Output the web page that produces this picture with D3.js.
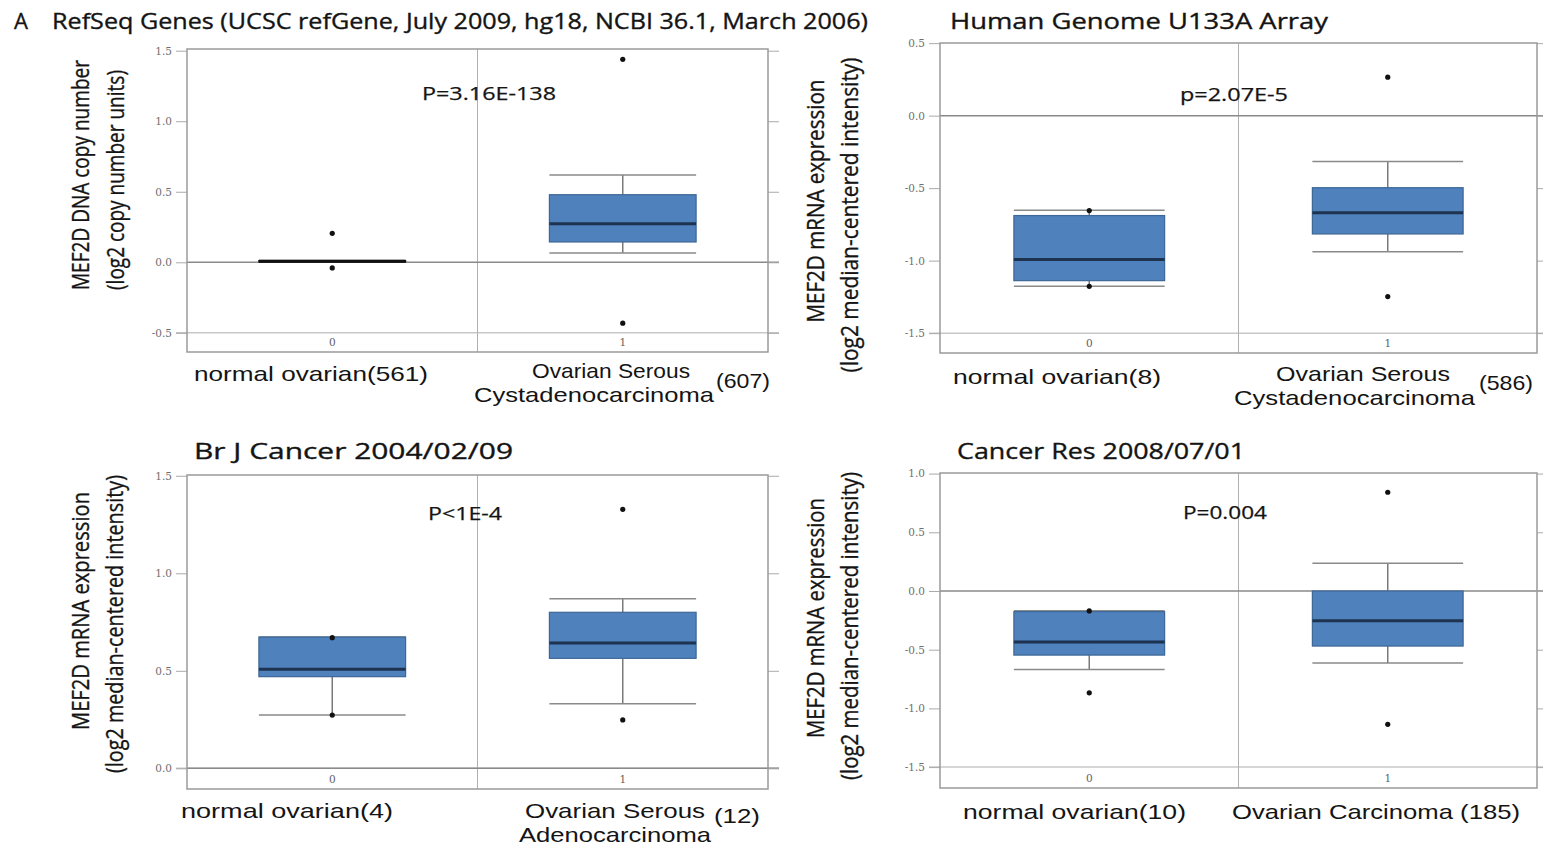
<!DOCTYPE html>
<html>
<head>
<meta charset="utf-8">
<script src="https://cdn.jsdelivr.net/npm/d3@7"></script>
<style>
  html, body { margin: 0; padding: 0; background: #fff; }
  svg { display: block; }
</style>
</head>
<body>
<svg id="chart" width="1543" height="852"></svg>
<script>
// ---------------- DATA ----------------
const panelLetter = "A";
const panelTitles = [
  "RefSeq Genes (UCSC refGene, July 2009, hg18, NCBI 36.1, March 2006)",
  "Human Genome U133A Array",
  "Br J Cancer 2004/02/09",
  "Cancer Res 2008/07/01"
];
const pValueLabels = ["P=3.16E-138", "p=2.07E-5", "P<1E-4", "P=0.004"];
const categories = ["0", "1"];
const yLabelLine1 = ["MEF2D DNA copy number", "MEF2D mRNA expression", "MEF2D mRNA expression", "MEF2D mRNA expression"];
const yLabelLine2 = ["(log2 copy number units)", "(log2 median-centered intensity)", "(log2 median-centered intensity)", "(log2 median-centered intensity)"];
const yTickValues = [
  [-0.5, 0.0, 0.5, 1.0, 1.5],
  [-1.5, -1.0, -0.5, 0.0, 0.5],
  [0.0, 0.5, 1.0, 1.5],
  [-1.5, -1.0, -0.5, 0.0, 0.5, 1.0]
];
const yDomains = [[-0.636, 1.512], [-1.637, 0.501], [-0.106, 1.504], [-1.678, 1.005]];

// box statistics per panel: [group 0, group 1]
const whiskerLow  = [[0.002, 0.066], [-1.177, -0.938], [0.273, 0.331], [-0.668, -0.614]];
const q1          = [[0.002, 0.144], [-1.138, -0.816], [0.470, 0.564], [-0.546, -0.469]];
const median      = [[0.007, 0.274], [-0.993, -0.669], [0.508, 0.642], [-0.435, -0.253]];
const q3          = [[0.012, 0.479], [-0.689, -0.497], [0.673, 0.800], [-0.176, 0.000]];
const whiskerHigh = [[0.012, 0.618], [-0.652, -0.317], [0.673, 0.870], [-0.168, 0.236]];
const outliers = [
  [[0.205, -0.040], [1.439, -0.432]],
  [[-0.655, -1.177], [0.265, -1.248]],
  [[0.670, 0.273], [1.328, 0.248]],
  [[-0.170, -0.867], [0.841, -1.136]]
];

// category captions: stacked lines, plus optional sample-size note
const captionLines = [
  [["normal ovarian(561)"], ["Ovarian Serous", "Cystadenocarcinoma"]],
  [["normal ovarian(8)"], ["Ovarian Serous", "Cystadenocarcinoma"]],
  [["normal ovarian(4)"], ["Ovarian Serous", "Adenocarcinoma"]],
  [["normal ovarian(10)"], ["Ovarian Carcinoma (185)"]]
];
const captionCounts = [[null, "(607)"], [null, "(586)"], [null, "(12)"], [null, null]];

// ---------------- LAYOUT ----------------
const frames = [
  {x0: 187, x1: 768,  y0: 49,  y1: 352},
  {x0: 940, x1: 1537, y0: 43,  y1: 353},
  {x0: 187, x1: 768,  y0: 475, y1: 789},
  {x0: 940, x1: 1537, y0: 473, y1: 788}
];
const titlePos = [{x: 52, y: 29, w: 816}, {x: 950, y: 29, w: 378}, {x: 194, y: 459, w: 319}, {x: 957, y: 459, w: 288}];
const pPos = [{x: 422, y: 100, w: 134}, {x: 1180, y: 101, w: 108}, {x: 428, y: 520, w: 74}, {x: 1183, y: 519, w: 84}];
const yLab = [
  {x1: 89, c1: 175, l1: 230, x2: 124, c2: 180, l2: 220},
  {x1: 824, c1: 201, l1: 243, x2: 858, c2: 215, l2: 315},
  {x1: 89, c1: 611, l1: 238, x2: 123, c2: 624, l2: 298},
  {x1: 824, c1: 618, l1: 240, x2: 858, c2: 626, l2: 308}
];
// caption layout: [x, baseline, width] per line
const captionLayout = [
  [[[194, 381, 234]], [[532, 378, 158], [474, 402, 240]]],
  [[[953, 384, 208]], [[1276, 381, 174], [1234, 405, 241]]],
  [[[181, 818, 212]], [[525, 818, 180], [519, 842, 192]]],
  [[[963, 819, 223]], [[1232, 819, 288]]]
];
const countLayout = [[null, [716, 388, 54]], [null, [1479, 390, 54]], [null, [714, 823, 46]], [null, null]];

const FONT = "'Open Sans', 'DejaVu Sans', sans-serif";
const CAP_FONT = "'Liberation Sans', Arial, sans-serif";
const INK = "#141414";
const svg = d3.select("#chart");

function styleText(sel, size, fam, sw) {
  return sel.attr("font-family", fam || FONT).attr("font-size", size).attr("fill", INK)
    .attr("stroke", INK).attr("stroke-width", sw === undefined ? 0.35 : sw);
}

styleText(svg.append("text").attr("x", 14).attr("y", 29), 22).text(panelLetter);

panelTitles.forEach((title, i) => {
  const f = frames[i];
  const g = svg.append("g");
  const x = d3.scaleBand().domain(categories).range([f.x0, f.x1]).padding(0);
  const y = d3.scaleLinear().domain(yDomains[i]).range([f.y1, f.y0]);
  const bw = x.bandwidth();
  const boxW = bw * 0.505;

  // title
  styleText(g.append("text").attr("x", titlePos[i].x).attr("y", titlePos[i].y), 22)
    .attr("textLength", titlePos[i].w).attr("lengthAdjust", "spacingAndGlyphs")
    .text(title);

  // lowest tick gridline
  const ticks = yTickValues[i];
  const lowTick = d3.min(ticks);
  g.append("line")
    .attr("x1", f.x0 - 11).attr("x2", f.x1 + 11)
    .attr("y1", y(lowTick)).attr("y2", y(lowTick))
    .attr("stroke", "#c8c8c8").attr("stroke-width", 1.5);

  // divider between categories
  g.append("line")
    .attr("x1", x("1")).attr("x2", x("1"))
    .attr("y1", f.y0).attr("y2", f.y1)
    .attr("stroke", "#b0b0b0").attr("stroke-width", 1);

  // zero line
  g.append("line")
    .attr("x1", f.x0).attr("x2", f.x1 + 11)
    .attr("y1", y(0)).attr("y2", y(0))
    .attr("stroke", "#8a8a8a").attr("stroke-width", 1.5);

  // left axis
  const leftAxis = d3.axisLeft(y).tickValues(ticks).tickFormat(d3.format(".1f")).tickSize(11).tickPadding(4);
  const la = g.append("g").attr("transform", `translate(${f.x0},0)`).call(leftAxis);
  la.select(".domain").remove();
  la.selectAll(".tick line").attr("stroke", "#aaa").attr("stroke-width", 1);
  la.selectAll(".tick text").attr("fill", "#6e6e6e").attr("font-family", "'DejaVu Serif', serif")
    .attr("font-size", 10.5).text(d => d.toFixed(1));

  // right ticks
  const rightAxis = d3.axisRight(y).tickValues(ticks).tickFormat("").tickSize(11);
  const ra = g.append("g").attr("transform", `translate(${f.x1},0)`).call(rightAxis);
  ra.select(".domain").remove();
  ra.selectAll(".tick line").attr("stroke", "#aaa").attr("stroke-width", 1);

  // category axis labels inside frame
  const bottomAxis = d3.axisBottom(x).tickSize(0).tickPadding(0);
  const ba = g.append("g").attr("transform", `translate(0,${f.y1 - 13})`).call(bottomAxis);
  ba.select(".domain").remove();
  ba.selectAll(".tick text").attr("fill", "#5e5e5e").attr("font-family", "'DejaVu Serif', serif").attr("font-size", 10.5);

  // frame
  g.append("rect").attr("x", f.x0).attr("y", f.y0)
    .attr("width", f.x1 - f.x0).attr("height", f.y1 - f.y0)
    .attr("fill", "none").attr("stroke", "#9a9a9a").attr("stroke-width", 1.5);

  // boxes
  categories.forEach((c, k) => {
    const cx = x(c) + bw / 2;
    const bx0 = cx - boxW / 2, bx1 = cx + boxW / 2;
    const wl = whiskerLow[i][k], wh = whiskerHigh[i][k];
    const a = q1[i][k], b = q3[i][k], m = median[i][k];
    const bg = g.append("g");
    bg.append("line").attr("x1", cx).attr("x2", cx).attr("y1", y(wh)).attr("y2", y(b))
      .attr("stroke", "#7a7a7a").attr("stroke-width", 1.5);
    bg.append("line").attr("x1", cx).attr("x2", cx).attr("y1", y(a)).attr("y2", y(wl))
      .attr("stroke", "#7a7a7a").attr("stroke-width", 1.5);
    [wl, wh].forEach(v => {
      bg.append("line").attr("x1", bx0).attr("x2", bx1).attr("y1", y(v)).attr("y2", y(v))
        .attr("stroke", "#8a8a8a").attr("stroke-width", 1.5);
    });
    const collapsed = (y(a) - y(b)) < 3;
    bg.append("rect").attr("x", bx0).attr("y", y(b))
      .attr("width", boxW).attr("height", Math.max(0.5, y(a) - y(b)))
      .attr("fill", collapsed ? "#111" : "#4f81bd").attr("stroke", collapsed ? "#111" : "#3d6796").attr("stroke-width", 1.2);
    bg.append("line").attr("x1", bx0).attr("x2", bx1).attr("y1", y(m)).attr("y2", y(m))
      .attr("stroke", collapsed ? "#111" : "#1d3350").attr("stroke-width", 3);
    bg.selectAll("circle").data(outliers[i][k]).join("circle")
      .attr("cx", cx).attr("cy", d => y(d)).attr("r", 2.6).attr("fill", "#111");
  });

  // p-value
  styleText(g.append("text").attr("x", pPos[i].x).attr("y", pPos[i].y), 18, FONT, 0.25)
    .attr("textLength", pPos[i].w).attr("lengthAdjust", "spacingAndGlyphs")
    .text(pValueLabels[i]);

  // y labels (rotated)
  const yl = yLab[i];
  styleText(g.append("text").attr("transform", `translate(${yl.x1},${yl.c1}) rotate(-90)`), 24)
    .attr("text-anchor", "middle")
    .attr("textLength", yl.l1).attr("lengthAdjust", "spacingAndGlyphs")
    .text(yLabelLine1[i]);
  styleText(g.append("text").attr("transform", `translate(${yl.x2},${yl.c2}) rotate(-90)`), 24)
    .attr("text-anchor", "middle")
    .attr("textLength", yl.l2).attr("lengthAdjust", "spacingAndGlyphs")
    .text(yLabelLine2[i]);

  // category captions
  captionLines[i].forEach((lines, k) => {
    lines.forEach((s, j) => {
      const L = captionLayout[i][k][j];
      styleText(g.append("text").attr("x", L[0]).attr("y", L[1]), 21, CAP_FONT, 0)
        .attr("textLength", L[2]).attr("lengthAdjust", "spacingAndGlyphs")
        .text(s);
    });
    const cnt = captionCounts[i][k];
    if (cnt) {
      const C = countLayout[i][k];
      styleText(g.append("text").attr("x", C[0]).attr("y", C[1]), 21, CAP_FONT, 0)
        .attr("textLength", C[2]).attr("lengthAdjust", "spacingAndGlyphs")
        .text(cnt);
    }
  });
});
</script>
</body>
</html>
